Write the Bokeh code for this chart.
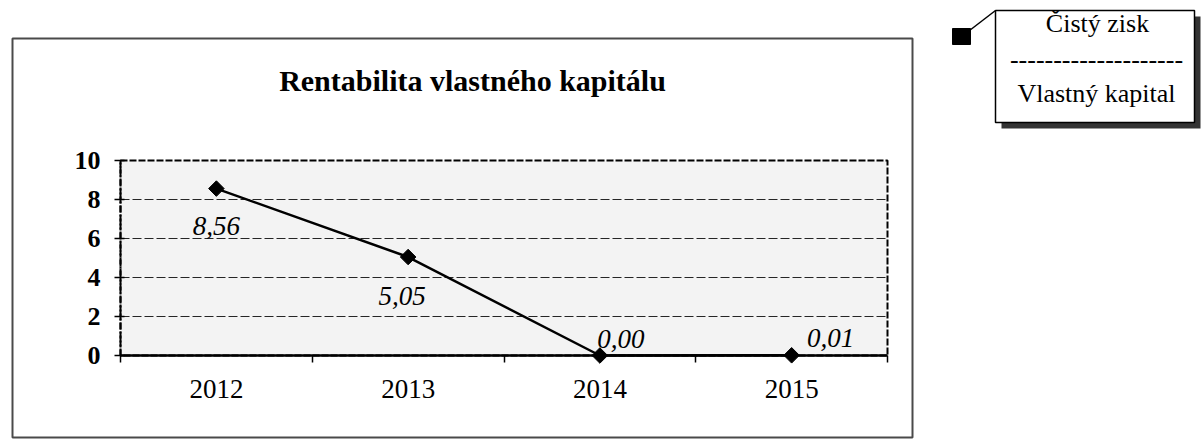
from bokeh.plotting import figure
from bokeh.models import Range1d, FixedTicker, Label, BoxAnnotation, PolyAnnotation, ColumnDataSource
from bokeh.embed import file_html
from bokeh.resources import INLINE
from bokeh.core.properties import value

# ---- data ----
years = ["2012", "2013", "2014", "2015"]
roe = [8.56, 5.05, 0.00, 0.01]
y_ticks = [0, 2, 4, 6, 8, 10]
title_text = "Rentabilita vlastného kapitálu"
formula_top = "Čistý zisk"
formula_bottom = "Vlastný kapital"

# ---- label placement (style, not data) ----
label_dx = [0, -6, 21, 39]
label_dy = [37, 39, -17, -17]

FONT = "Liberation Serif"
W, H = 1204, 441
# plot area in page pixels
PL, PR, PT, PB = 120, 887, 160, 355
n = len(years)
ymin, ymax = y_ticks[0], y_ticks[-1]
ppx_x = (PR - PL) / n
ppx_y = (PB - PT) / (ymax - ymin)
x_start = -0.5 - PL / ppx_x
x_end = x_start + W / ppx_x
y_end = ymin + PB / ppx_y
y_start = y_end - H / ppx_y


def dx(px):
    return x_start + px / ppx_x


def dy(py):
    return y_end - py / ppx_y


p = figure(width=W, height=H,
           x_range=Range1d(x_start, x_end), y_range=Range1d(y_start, y_end),
           output_backend="svg", toolbar_location=None,
           min_border=0, min_border_left=0, min_border_right=0,
           min_border_top=0, min_border_bottom=0)
p.title.visible = False
p.background_fill_color = "white"
p.border_fill_color = "white"
p.outline_line_color = None
p.xgrid.visible = False
p.ygrid.visible = False

# plot area background + dashed border
p.add_layout(BoxAnnotation(left=-0.5, right=n - 0.5, bottom=ymin, top=ymax,
                           fill_color="#f3f3f3", fill_alpha=1,
                           line_color="black", line_alpha=1, line_width=2, line_dash="7 2",
                           level="image"))

# horizontal grid lines
grid_y = [t for t in y_ticks if ymin < t < ymax]
gl = p.segment(x0=[-0.5] * len(grid_y), x1=[n - 0.5] * len(grid_y), y0=grid_y, y1=grid_y,
               line_color="black", line_width=1, line_dash="9 3", line_alpha=0.85)
gl.level = "underlay"

xs = list(range(n))
src = ColumnDataSource(dict(
    x=xs, y=roe,
    label=[f"{v:.2f}".replace(".", ",") for v in roe],
    dx=label_dx, dy=label_dy))

p.line("x", "y", source=src, line_color="black", line_width=2.5)
sc = p.scatter("x", "y", source=src, marker="square", angle=0.785398, size=11,
               fill_color="black", line_color="black")
sc.level = "overlay"
p.text("x", "y", text="label", x_offset="dx", y_offset="dy", source=src,
       text_font=value(FONT), text_font_style="italic", text_font_size="27px",
       text_align="center", text_baseline="middle", text_color="black")

# x axis
xa = p.xaxis[0]
xa.fixed_location = ymin
xa.bounds = (-0.5, n - 0.5)
xa.ticker = FixedTicker(ticks=xs, minor_ticks=[i - 0.5 for i in range(n + 1)])
xa.major_label_overrides = {i: y for i, y in enumerate(years)}
xa.major_tick_line_color = None
xa.major_tick_in = 0
xa.major_tick_out = 0
xa.minor_tick_in = 0
xa.minor_tick_out = 7
xa.minor_tick_line_color = "black"
xa.minor_tick_line_width = 1.5
xa.axis_line_color = "black"
xa.axis_line_width = 2.5
xa.major_label_text_font = FONT
xa.major_label_text_font_size = "27px"
xa.major_label_text_color = "black"
xa.major_label_standoff = 17

# y axis
ya = p.yaxis[0]
ya.fixed_location = -0.5
ya.bounds = (ymin, ymax)
ya.ticker = FixedTicker(ticks=y_ticks, minor_ticks=[])
ya.major_tick_in = 4
ya.major_tick_out = 6
ya.major_tick_line_color = "black"
ya.major_tick_line_width = 1.5
ya.axis_line_color = "black"
ya.axis_line_width = 2
ya.axis_line_dash = "7 2 2 2"
ya.major_label_text_font = FONT
ya.major_label_text_font_size = "26px"
ya.major_label_text_font_style = "bold"
ya.major_label_text_color = "black"
ya.major_label_standoff = 14


# ---- decorations ----
def box(l, t, r, b, **kw):
    return BoxAnnotation(left=dx(l), right=dx(r), top=dy(t), bottom=dy(b), **kw)


p.add_layout(box(12, 38, 912, 437, fill_alpha=0, line_color="#4a4a4a", line_alpha=1, line_width=2))
p.add_layout(box(1001, 16, 1200, 128, fill_color="#333333", fill_alpha=1, line_alpha=0))
p.add_layout(box(995, 10, 1194, 122, fill_color="white", fill_alpha=1,
                 line_color="black", line_alpha=1, line_width=1.5))
p.add_layout(box(952, 28, 970, 44, fill_color="black", fill_alpha=1, line_color="black", line_alpha=1))
p.add_layout(PolyAnnotation(xs=[dx(969), dx(995)], ys=[dy(30), dy(10)],
                            fill_alpha=0, line_color="black", line_alpha=1, line_width=1.5))

LABEL_SHIFT = 10  # Label baseline correction (px)


def lab(x, y, text, size="26px", style="normal"):
    return Label(x=dx(x), y=dy(y - LABEL_SHIFT), text=text,
                 text_font=FONT, text_font_size=size, text_font_style=style,
                 text_align="center", text_baseline="alphabetic", text_color="black")


p.add_layout(lab(472, 90, title_text, size="30px", style="bold"))
p.add_layout(lab(1097, 33, formula_top))
p.add_layout(lab(1096, 69, "-" * 20))
p.add_layout(lab(1096, 103, formula_bottom))

open("out.html", "w").write(file_html(p, INLINE))
